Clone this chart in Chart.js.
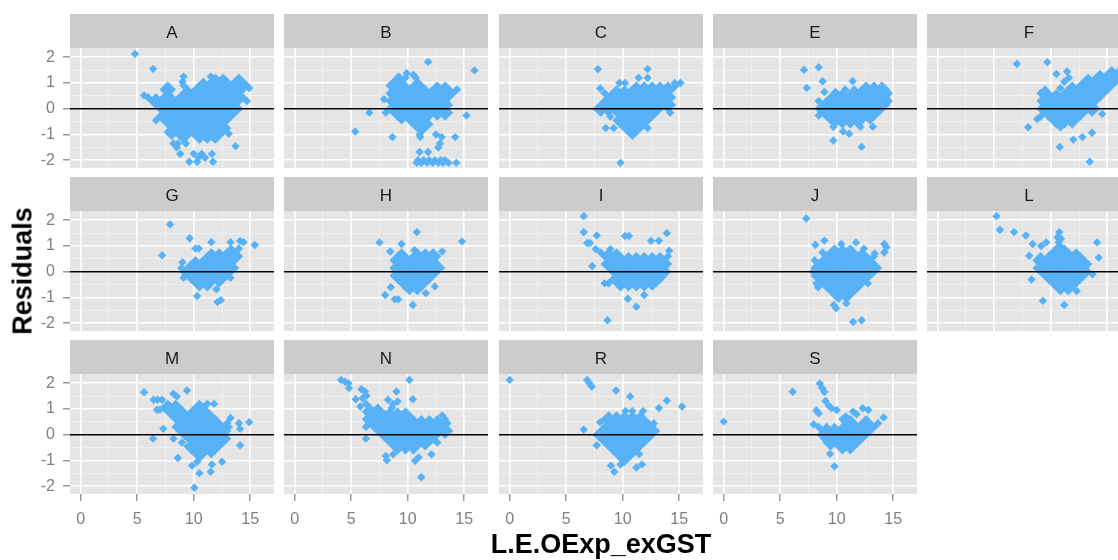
<!DOCTYPE html>
<html>
<head>
<meta charset="utf-8">
<script src="https://cdn.jsdelivr.net/npm/chart.js@4.4.1/dist/chart.umd.min.js"></script>
<style>
  html, body { margin: 0; padding: 0; background: #fff; overflow: hidden; }
  body { width: 1118px; height: 560px; position: relative; }
  canvas { position: absolute; }
  .axis-title { position: absolute; font: bold 27px "Liberation Sans", Arial, sans-serif; line-height: 27px; color: #000; white-space: nowrap; }
  #x-title { left: 601px; top: 531px; transform: translateX(-50%); }
  #y-title { left: 23px; top: 271px; transform: translate(-50%, -50%) rotate(-90deg); }
</style>
</head>
<body>
<div id="panels"></div>
<div class="axis-title" id="x-title">L.E.OExp_exGST</div>
<div class="axis-title" id="y-title">Residuals</div>
<script>
const facets = ['A', 'B', 'C', 'E', 'F', 'G', 'H', 'I', 'J', 'L', 'M', 'N', 'R', 'S'];
const xTicks = [0, 2.5, 5, 7.5, 10, 12.5, 15];
const yTicks = [-2, -1.5, -1, -0.5, 0, 0.5, 1, 1.5, 2];
const xMajor = [0, 5, 10, 15];
const yMajor = [-2, -1, 0, 1, 2];
const xRange = [-0.95, 17.1];
const yRange = [-2.3, 2.36];

// every row: [residual, then the L.E.OExp_exGST values seen at that residual]
const residA = [
    [2.13, 4.8], [1.55, 6.4], [1.25, 9.1, 11.5],
    [1.2, 11.9, 12.6, 14.0],
    [1.05, 9.0, 10.85, 11.55, 12.25, 12.95, 13.65, 14.35],
    [0.9, 7.7, 9.1, 10.5, 11.2, 11.9, 12.6, 13.3, 14.0, 14.7],
    [0.8, 14.9],
    [0.75, 7.35, 8.05, 9.45, 10.15, 10.85, 11.55, 12.25, 12.95, 13.65, 14.35],
    [0.6, 7.7, 9.1, 9.8, 10.5, 11.2, 11.9, 12.6, 13.3, 14.0],
    [0.52, 5.6],
    [0.45, 5.95, 6.65, 7.35, 8.05, 8.75, 9.45, 10.15, 10.85, 11.55, 12.25, 12.95, 13.65, 14.35],
    [0.3, 6.3, 7.0, 7.7, 8.4, 9.1, 9.8, 10.5, 11.2, 11.9, 12.6, 13.3, 14.0, 14.7],
    [0.15, 6.65, 7.35, 8.05, 8.75, 9.45, 10.15, 10.85, 11.55, 12.25, 12.95, 13.65],
    [0.0, 7.0, 7.7, 8.4, 9.1, 9.8, 10.5, 11.2, 11.9, 12.6, 13.3, 14.0],
    [-0.15, 7.35, 8.05, 8.75, 9.45, 10.15, 10.85, 11.55, 12.25, 12.95, 13.65],
    [-0.3, 7.0, 7.7, 8.4, 9.1, 9.8, 10.5, 11.2, 11.9, 12.6, 13.3],
    [-0.45, 6.65, 7.35, 8.05, 8.75, 9.45, 10.15, 10.85, 11.55, 12.25, 12.95],
    [-0.6, 7.7, 8.4, 9.1, 9.8, 10.5, 11.2, 11.9, 12.6],
    [-0.75, 8.05, 8.75, 9.45, 10.15, 10.85, 11.55, 12.25, 12.95],
    [-0.9, 7.7, 8.4, 9.1, 9.8, 10.5, 11.2, 11.9, 12.6],
    [-0.97, 13.1],
    [-1.05, 8.05, 8.75, 9.45, 10.15, 10.85, 11.55, 12.25],
    [-1.2, 9.1, 10.5, 11.2, 11.9],
    [-1.35, 8.2, 8.6, 9.3], [-1.45, 13.7], [-1.5, 8.5],
    [-1.75, 8.8, 10.0, 10.7, 11.6], [-1.9, 10.4, 11.0],
    [-2.06, 9.6, 10.3, 11.7]
];
const residB = [
    [1.82, 11.8], [1.49, 15.9], [1.38, 9.9], [1.32, 10.5], [1.25, 9.2],
    [1.2, 9.1, 9.8, 10.7],
    [1.05, 8.75, 9.45, 10.85],
    [0.9, 8.4, 9.1, 9.8, 10.5, 11.2, 12.6, 13.3],
    [0.75, 8.75, 9.45, 10.15, 10.85, 11.55, 12.25, 12.95, 13.65, 14.35],
    [0.6, 8.4, 9.1, 9.8, 10.5, 11.2, 11.9, 12.6, 13.3, 14.0],
    [0.45, 8.75, 9.45, 10.15, 10.85, 11.55, 12.25, 12.95, 13.65],
    [0.37, 7.9],
    [0.3, 8.4, 9.1, 9.8, 10.5, 11.2, 11.9, 12.6, 13.3],
    [0.15, 8.75, 9.45, 10.15, 10.85, 11.55, 12.25, 12.95, 13.65],
    [0.0, 8.4, 9.1, 9.8, 10.5, 11.2, 11.9, 12.6, 13.3],
    [-0.15, 6.6, 8.05, 8.75, 9.45, 10.15, 10.85, 11.55, 12.25, 12.95, 13.65],
    [-0.26, 15.2],
    [-0.3, 9.1, 9.8, 10.5, 11.2, 11.9, 12.6, 13.3],
    [-0.45, 9.45, 10.15, 10.85, 11.55],
    [-0.6, 10.5, 11.2, 11.9],
    [-0.75, 10.85, 11.55],
    [-0.88, 5.35, 11.2],
    [-1.0, 11.05, 12.5],
    [-1.1, 8.65, 11.1, 13.0, 14.2],
    [-1.35, 12.85], [-1.5, 12.7], [-1.68, 11.05, 11.8],
    [-2.0, 10.9, 11.4, 11.9, 12.4, 12.9, 13.3],
    [-2.1, 10.8, 11.2, 11.7, 12.2, 12.7, 13.1, 13.6, 14.3]
];
const residC = [
    [1.54, 7.8, 12.2], [1.2, 11.4, 12.2], [1.0, 9.7, 10.2, 14.6, 15.1],
    [0.9, 11.2, 11.9, 12.6, 13.3, 14.0, 14.7],
    [0.79, 8.0],
    [0.75, 9.45, 10.15, 10.85, 11.55, 12.25, 12.95, 13.65, 14.35],
    [0.6, 8.4, 9.1, 9.8, 10.5, 11.2, 11.9, 12.6, 13.3, 14.0],
    [0.45, 8.75, 9.45, 10.15, 10.85, 11.55, 12.25, 12.95, 13.65, 14.35],
    [0.3, 8.4, 9.1, 9.8, 10.5, 11.2, 11.9, 12.6, 13.3, 14.0],
    [0.15, 8.05, 8.75, 9.45, 10.15, 10.85, 11.55, 12.25, 12.95, 13.65, 14.35],
    [0.0, 7.7, 8.4, 9.1, 9.8, 10.5, 11.2, 11.9, 12.6, 13.3, 14.0],
    [-0.15, 8.05, 8.75, 9.45, 10.15, 10.85, 11.55, 12.25, 12.95, 14.2],
    [-0.3, 8.9, 9.8, 10.5, 11.2, 11.9, 12.6],
    [-0.45, 9.45, 10.15, 10.85, 11.55, 12.25],
    [-0.6, 9.8, 10.5, 11.2, 11.9],
    [-0.75, 8.5, 9.2, 10.15, 10.85, 11.55, 12.2],
    [-0.9, 10.5, 11.2],
    [-1.05, 10.85],
    [-2.1, 9.8]
];
const residE = [
    [1.61, 8.4], [1.51, 7.1], [1.07, 8.75, 11.4],
    [0.9, 12.6, 13.3, 14.0],
    [0.81, 7.35],
    [0.75, 10.75, 11.55, 12.25, 12.95, 13.65, 14.35],
    [0.65, 8.9, 9.9],
    [0.6, 9.8, 10.5, 11.2, 11.9, 12.6, 13.3, 14.0, 14.6],
    [0.45, 9.45, 10.15, 10.85, 11.55, 12.25, 12.95, 13.65, 14.35],
    [0.3, 8.4, 9.1, 9.8, 10.5, 11.2, 11.9, 12.6, 13.3, 14.0, 14.6],
    [0.15, 8.75, 9.45, 10.15, 10.85, 11.55, 12.25, 12.95, 13.65, 14.35],
    [0.0, 8.4, 9.1, 9.8, 10.5, 11.2, 11.9, 12.6, 13.3, 14.0],
    [-0.15, 8.75, 9.45, 10.15, 10.85, 11.55, 12.25, 12.95, 13.65],
    [-0.26, 8.4],
    [-0.3, 9.1, 9.8, 10.5, 11.2, 11.9, 12.6, 13.3],
    [-0.45, 9.45, 10.15, 10.85, 11.55, 12.25, 12.95],
    [-0.6, 9.8, 10.5, 11.2, 11.9],
    [-0.7, 9.7, 12.1, 13.2],
    [-0.88, 10.55], [-0.97, 11.1], [-1.23, 9.7], [-1.48, 12.2]
];
const residF = [
    [1.81, 9.7], [1.74, 7.0], [1.65, 16.6],
    [1.5, 15.4, 16.1, 16.8],
    [1.45, 11.45],
    [1.35, 10.5, 14.35, 15.05, 15.75, 16.45],
    [1.2, 11.6, 13.3, 14.0, 14.7, 15.4, 16.1],
    [1.05, 11.2, 12.95, 13.65, 14.35, 15.05, 15.75],
    [0.9, 11.9, 12.6, 13.3, 14.0, 14.7, 15.4],
    [0.8, 10.85],
    [0.75, 9.5, 11.55, 12.25, 12.95, 13.65, 14.35, 15.05],
    [0.6, 9.1, 9.8, 10.5, 11.2, 11.9, 12.6, 13.3, 14.0, 14.7],
    [0.45, 9.45, 10.15, 10.85, 11.55, 12.25, 12.95, 13.65, 14.35],
    [0.3, 9.1, 9.8, 10.5, 11.2, 11.9, 12.6, 13.3, 14.0],
    [0.15, 9.45, 10.15, 10.85, 11.55, 12.25, 12.95, 13.65],
    [0.0, 9.1, 9.8, 10.5, 11.2, 11.9, 12.6, 13.3, 14.0],
    [-0.15, 9.45, 10.15, 10.85, 11.55, 12.25, 12.95, 13.65],
    [-0.2, 14.55],
    [-0.3, 9.1, 9.8, 10.5, 11.2, 11.9, 12.6],
    [-0.4, 8.8],
    [-0.45, 10.15, 10.85, 11.55, 12.25],
    [-0.6, 10.5, 11.2, 11.9],
    [-0.72, 8.0, 10.85],
    [-0.93, 13.65], [-1.1, 12.8], [-1.2, 12.0], [-1.48, 10.8], [-2.06, 13.45]
];
const residG = [
    [1.84, 7.9], [1.3, 9.65], [1.2, 14.1], [1.15, 11.55, 13.25, 14.4], [1.04, 15.4],
    [0.9, 10.15, 10.45, 13.3, 14.0],
    [0.75, 11.55, 12.25, 12.95, 13.65],
    [0.64, 7.2],
    [0.6, 11.2, 11.9, 12.6, 13.3, 14.0],
    [0.45, 10.15, 10.85, 11.55, 12.25, 12.95, 13.65],
    [0.37, 9.0],
    [0.3, 9.8, 10.5, 11.2, 11.9, 12.6, 13.3],
    [0.15, 8.9, 9.45, 10.15, 10.85, 11.55, 12.25, 12.95, 13.65],
    [0.0, 9.1, 9.8, 10.5, 11.2, 11.9, 12.6, 13.3],
    [-0.15, 9.45, 10.15, 10.85, 11.55, 12.25, 12.95],
    [-0.23, 9.1, 13.25],
    [-0.3, 9.8, 10.5, 11.2, 11.9, 12.6],
    [-0.45, 10.15, 10.85, 11.55, 12.25],
    [-0.6, 10.5, 11.2],
    [-0.68, 12.0], [-0.94, 10.3], [-1.1, 12.4], [-1.17, 12.1]
];
const residH = [
    [1.54, 10.8], [1.18, 14.8], [1.14, 7.5], [1.08, 9.45],
    [0.84, 10.6], [0.79, 8.45, 13.05],
    [0.75, 9.45, 10.85, 11.55, 12.25],
    [0.6, 9.1, 9.8, 10.5, 11.2, 11.9, 12.6],
    [0.45, 8.75, 9.45, 10.15, 10.85, 11.55, 12.25],
    [0.3, 9.1, 9.8, 10.5, 11.2, 11.9, 12.6],
    [0.15, 8.75, 9.45, 10.15, 10.85, 11.55, 12.25, 12.95],
    [0.0, 9.1, 9.8, 10.5, 11.2, 11.9, 12.6],
    [-0.15, 8.75, 9.45, 10.15, 10.85, 11.55, 12.25],
    [-0.3, 9.1, 9.8, 10.5, 11.2, 11.9],
    [-0.45, 9.45, 10.15, 10.85, 11.55],
    [-0.57, 12.4],
    [-0.6, 8.5, 9.8, 10.5, 11.2],
    [-0.75, 10.15, 10.85],
    [-0.83, 11.6], [-0.9, 8.0], [-1.07, 8.85, 9.15], [-1.29, 10.45]
];
const residI = [
    [2.16, 6.55], [1.54, 6.55], [1.5, 13.9], [1.41, 7.7], [1.39, 10.2, 10.55],
    [1.2, 12.5, 13.2], [1.12, 6.85, 7.1],
    [0.88, 7.6, 8.9], [0.82, 14.1],
    [0.75, 8.05, 8.75, 9.45],
    [0.6, 8.4, 9.1, 9.8, 10.5, 11.2, 11.9, 12.6, 13.3, 14.0],
    [0.45, 8.75, 9.45, 10.15, 10.85, 11.55, 12.25, 12.95, 13.65],
    [0.3, 8.4, 9.1, 9.8, 10.5, 11.2, 11.9, 12.6, 13.3, 14.0],
    [0.22, 7.3],
    [0.15, 8.75, 9.45, 10.15, 10.85, 11.55, 12.25, 12.95, 13.65],
    [0.0, 9.1, 9.8, 10.5, 11.2, 11.9, 12.6, 13.3, 13.9],
    [-0.15, 9.45, 10.15, 10.85, 11.55, 12.25, 12.95, 13.6],
    [-0.3, 9.1, 9.8, 10.5, 11.2, 11.9, 12.6, 13.3],
    [-0.45, 8.4, 8.75, 9.45, 10.15, 10.85, 11.55, 12.25, 12.95],
    [-0.57, 12.6],
    [-0.6, 9.8, 10.5, 11.2, 11.9],
    [-0.9, 11.9], [-1.05, 10.45], [-1.36, 11.2], [-1.88, 8.65]
];
const residJ = [
    [2.07, 7.3], [1.21, 8.9], [1.14, 11.7], [1.08, 10.4, 14.2], [1.05, 8.1],
    [0.95, 14.4],
    [0.9, 9.8, 10.5, 11.2, 12.4],
    [0.75, 8.75, 9.45, 10.15, 10.85, 11.55, 12.25, 14.2],
    [0.71, 13.35],
    [0.6, 9.1, 9.8, 10.5, 11.2, 11.9, 12.6, 13.3],
    [0.45, 8.05, 8.75, 9.45, 10.15, 10.85, 11.55, 12.25, 12.95],
    [0.3, 8.4, 9.1, 9.8, 10.5, 11.2, 11.9, 12.6, 13.3],
    [0.15, 8.05, 8.75, 9.45, 10.15, 10.85, 11.55, 12.25, 12.95, 13.65],
    [0.0, 7.9, 8.4, 9.1, 9.8, 10.5, 11.2, 11.9, 12.6, 13.3],
    [-0.15, 8.05, 8.75, 9.45, 10.15, 10.85, 11.55, 12.25, 12.95],
    [-0.3, 8.4, 9.1, 9.8, 10.5, 11.2, 11.9, 12.6],
    [-0.45, 8.2, 8.75, 9.45, 10.15, 10.85, 11.55, 12.25, 12.75],
    [-0.6, 8.35, 9.1, 9.8, 10.5, 11.2, 11.9],
    [-0.75, 9.45, 10.15, 10.85, 11.55],
    [-0.9, 9.8, 10.5, 11.2],
    [-1.05, 10.15, 10.85],
    [-1.22, 10.85], [-1.29, 9.75], [-1.42, 9.95], [-1.88, 12.2], [-1.95, 11.45]
];
const residL = [
    [2.16, 5.2], [1.63, 5.5], [1.54, 6.75, 10.75], [1.41, 7.8], [1.34, 10.6], [1.28, 10.9],
    [1.14, 9.6, 10.7, 14.1], [1.08, 8.4], [1.0, 9.15, 10.8],
    [0.9, 10.5, 11.2],
    [0.75, 10.15, 10.85, 11.55, 12.25],
    [0.62, 8.1],
    [0.6, 9.1, 9.8, 10.5, 11.2, 11.9, 12.6],
    [0.55, 14.25],
    [0.45, 8.75, 9.45, 10.15, 10.85, 11.55, 12.25, 12.95],
    [0.3, 9.1, 9.8, 10.5, 11.2, 11.9, 12.6, 13.3],
    [0.15, 8.75, 9.45, 10.15, 10.85, 11.55, 12.25, 12.95],
    [0.0, 9.1, 9.8, 10.5, 11.2, 11.9, 12.6, 13.3],
    [-0.1, 13.7],
    [-0.15, 9.45, 10.15, 10.85, 11.55, 12.25, 12.95],
    [-0.3, 8.3, 9.8, 10.5, 11.2, 11.9, 12.6],
    [-0.45, 10.15, 10.85, 11.55, 12.25],
    [-0.6, 10.5, 11.2, 11.9],
    [-0.75, 10.85, 11.55, 12.3],
    [-1.13, 9.3], [-1.29, 11.2]
];
const residM = [
    [1.72, 9.4], [1.65, 5.6], [1.59, 8.2], [1.49, 8.5], [1.36, 6.45, 6.8, 7.2],
    [1.2, 7.7, 8.4, 10.5, 11.2, 11.8],
    [1.05, 7.35, 8.05, 8.75, 10.15, 10.85],
    [0.97, 6.75, 7.0],
    [0.9, 7.7, 8.4, 9.1, 9.8, 10.5, 11.2],
    [0.75, 8.05, 8.75, 9.45, 10.15, 10.85, 11.55],
    [0.65, 13.25],
    [0.6, 8.4, 9.1, 9.8, 10.5, 11.2, 11.9],
    [0.49, 14.9],
    [0.45, 8.75, 9.45, 10.15, 10.85, 11.55, 12.25, 12.95, 14.0],
    [0.3, 8.4, 9.1, 9.8, 10.5, 11.2, 11.9, 12.6, 13.1],
    [0.23, 7.3, 14.1],
    [0.15, 8.75, 9.45, 10.15, 10.85, 11.55, 12.25, 12.95],
    [0.0, 9.1, 9.8, 10.5, 11.2, 11.9, 12.6],
    [-0.15, 6.4, 8.2, 9.45, 10.15, 10.85, 11.55, 12.25, 12.95],
    [-0.3, 8.95, 9.8, 10.5, 11.2, 11.9, 12.6],
    [-0.41, 14.1],
    [-0.45, 9.45, 10.15, 10.85, 11.55, 12.25],
    [-0.6, 9.8, 10.5, 11.2, 11.9],
    [-0.75, 10.15, 10.85, 11.55],
    [-0.9, 8.6, 10.5],
    [-1.05, 10.3, 12.5], [-1.15, 11.6], [-1.2, 9.85],
    [-1.44, 11.5], [-1.49, 10.5], [-2.06, 10.05]
];
const residN = [
    [2.13, 4.1, 10.15], [2.06, 4.45], [2.0, 4.75], [1.81, 4.8], [1.77, 5.9],
    [1.68, 6.2, 9.0], [1.52, 6.35], [1.42, 6.0], [1.38, 5.4, 10.45], [1.36, 8.25],
    [1.29, 9.1], [1.2, 6.3, 8.7], [1.1, 5.8],
    [1.05, 6.65, 7.35, 8.6],
    [0.9, 6.3, 7.0, 7.7, 8.4, 9.1, 9.8],
    [0.75, 6.65, 7.35, 8.05, 8.75, 9.45, 10.15, 13.05],
    [0.6, 6.3, 7.0, 7.7, 8.4, 9.1, 9.8, 10.5, 11.2, 11.9, 12.6, 13.3],
    [0.45, 6.65, 7.35, 8.05, 8.75, 9.45, 10.15, 10.85, 11.55, 12.25, 12.95, 13.5],
    [0.3, 6.3, 7.0, 7.7, 8.4, 9.1, 9.8, 10.5, 11.2, 11.9, 12.6, 13.3],
    [0.15, 7.35, 8.05, 8.75, 9.45, 10.15, 10.85, 11.55, 12.25, 12.95, 13.65],
    [0.0, 7.7, 8.4, 9.1, 9.8, 10.5, 11.2, 11.9, 12.6, 13.3],
    [-0.15, 6.3, 8.05, 8.75, 9.45, 10.15, 10.85, 11.55, 12.25],
    [-0.3, 8.4, 9.1, 9.8, 10.5, 11.2, 11.9, 12.6],
    [-0.45, 8.75, 9.45, 10.15, 10.85, 11.55],
    [-0.6, 9.1, 9.8, 10.5],
    [-0.76, 8.7, 12.1], [-0.82, 8.05], [-0.88, 10.95], [-0.99, 8.15], [-1.01, 10.65],
    [-1.65, 11.2]
];
const residR = [
    [2.13, 0.0, 6.85], [2.0, 7.05], [1.87, 7.25], [1.72, 9.4], [1.49, 10.65],
    [1.33, 13.9], [1.1, 15.25], [1.04, 13.2],
    [0.92, 10.25, 10.85, 11.8],
    [0.75, 8.75, 9.45, 10.15, 10.85, 11.55],
    [0.6, 8.4, 9.1, 9.8, 10.5, 11.2, 11.9],
    [0.49, 8.0],
    [0.45, 8.75, 9.45, 10.15, 10.85, 11.55, 12.25, 12.75],
    [0.3, 8.4, 9.1, 9.8, 10.5, 11.2, 11.9, 12.6],
    [0.2, 6.55],
    [0.15, 8.05, 8.75, 9.45, 10.15, 10.85, 11.55, 12.25, 12.95],
    [0.0, 7.7, 8.4, 9.1, 9.8, 10.5, 11.2, 11.9, 12.6],
    [-0.15, 8.05, 8.75, 9.45, 10.15, 10.85, 11.55, 12.25],
    [-0.3, 8.4, 9.1, 9.8, 10.5, 11.2, 11.9],
    [-0.41, 7.7],
    [-0.45, 8.75, 9.45, 10.15, 10.85, 11.55],
    [-0.6, 9.1, 9.8, 10.5, 11.2],
    [-0.75, 9.45, 10.15, 10.85, 11.45],
    [-0.9, 9.8, 10.5],
    [-1.05, 10.15],
    [-1.15, 9.8, 11.7], [-1.2, 8.95], [-1.27, 11.2], [-1.44, 9.25]
];
const residS = [
    [1.99, 8.5], [1.82, 8.7], [1.67, 6.1, 8.9], [1.31, 9.0], [1.13, 9.3],
    [1.03, 9.55, 12.3], [0.96, 10.0, 12.8], [0.94, 8.2], [0.9, 11.45],
    [0.83, 8.4], [0.8, 11.75], [0.71, 10.8], [0.67, 14.15],
    [0.6, 10.5, 11.2, 12.6],
    [0.51, 0.0],
    [0.45, 10.85, 11.55, 12.25, 12.95, 13.65],
    [0.41, 7.95],
    [0.3, 8.4, 9.1, 9.8, 10.5, 11.2, 11.9, 12.6, 13.3],
    [0.15, 8.75, 9.45, 10.15, 10.85, 11.55, 12.25, 12.95],
    [0.0, 8.6, 9.1, 9.8, 10.5, 11.2, 11.9, 12.6],
    [-0.15, 8.9, 9.45, 10.15, 10.85, 11.55, 12.25],
    [-0.3, 9.1, 9.8, 10.5, 11.2, 11.9],
    [-0.45, 9.45, 10.15, 10.85, 11.55],
    [-0.6, 10.5, 11.2],
    [-0.74, 9.4], [-1.22, 9.8]
];

const residRows = [residA, residB, residC, residE, residF, residG, residH,
    residI, residJ, residL, residM, residN, residR, residS];

// panel layout (px)
const colLeft = [70, 284, 499, 713, 927];
const rowTop = [14, 177, 340];
const panelW = 204, panelH = 120, stripH = 34;
const yAxisW = 60, xAxisH = 36;
const NCOL = 5;

const pointColor = '#56B1F7';
const tickGrey = '#7F7F7F';
const fontFamily = '"Liberation Sans", Arial, sans-serif';

const facetPlugin = {
    id: 'facet',
    beforeDraw(chart, args, opts) {
        const { ctx, chartArea: a } = chart;
        ctx.save();
        ctx.fillStyle = '#E5E5E5';
        ctx.fillRect(a.left, a.top, a.right - a.left, a.bottom - a.top);
        ctx.fillStyle = '#CCCCCC';
        ctx.fillRect(a.left, a.top - stripH, a.right - a.left, stripH);
        ctx.fillStyle = '#1A1A1A';
        ctx.font = '17px ' + fontFamily;
        ctx.textAlign = 'center';
        ctx.textBaseline = 'middle';
        ctx.fillText(opts.label, (a.left + a.right) / 2, a.top - stripH / 2 + 2);
        ctx.restore();
    },
    afterDatasetsDraw(chart) {
        // hline at residual 0
        const { ctx, chartArea: a, scales } = chart;
        const py = scales.y.getPixelForValue(0);
        ctx.save();
        ctx.strokeStyle = '#000';
        ctx.lineWidth = 1.5;
        ctx.beginPath();
        ctx.moveTo(a.left, py);
        ctx.lineTo(a.right, py);
        ctx.stroke();
        ctx.restore();
    }
};

function gridStyle(majors, showTicks) {
    return {
        color: c => majors.includes(c.tick && c.tick.value) ? '#FFFFFF' : '#F2F2F2',
        lineWidth: c => majors.includes(c.tick && c.tick.value) ? 1.6 : 0.8,
        tickColor: c => (showTicks && majors.includes(c.tick && c.tick.value)) ? tickGrey : 'rgba(0,0,0,0)',
        tickWidth: 1.2,
        tickLength: 7,
        drawTicks: showTicks
    };
}

const holder = document.getElementById('panels');

facets.forEach((name, i) => {
    const col = i % NCOL;
    const row = Math.floor(i / NCOL);
    const showY = col === 0;
    // facet_wrap draws the x axis under the last row only
    const showX = row === 2;

    const canvas = document.createElement('canvas');
    const w = panelW + (showY ? yAxisW : 0);
    const h = stripH + panelH + (showX ? xAxisH : 0);
    canvas.width = w;
    canvas.height = h;
    canvas.style.left = (colLeft[col] - (showY ? yAxisW : 0)) + 'px';
    canvas.style.top = rowTop[row] + 'px';
    canvas.style.width = w + 'px';
    canvas.style.height = h + 'px';
    holder.appendChild(canvas);

    const points = residRows[i].flatMap(([y, ...xs]) => xs.map(x => ({ x, y })));

    new Chart(canvas.getContext('2d'), {
        type: 'scatter',
        data: {
            datasets: [{
                label: name,
                data: points,
                pointStyle: 'rectRot',
                pointRadius: 4.2,
                pointHoverRadius: 4.2,
                backgroundColor: pointColor,
                borderWidth: 0
            }]
        },
        plugins: [facetPlugin],
        options: {
            responsive: false,
            animation: false,
            devicePixelRatio: 1,
            events: [],
            layout: { autoPadding: false, padding: { top: stripH, left: 0, right: 0, bottom: 0 } },
            plugins: {
                legend: { display: false },
                tooltip: { enabled: false },
                facet: { label: name }
            },
            scales: {
                x: {
                    type: 'linear',
                    min: xRange[0],
                    max: xRange[1],
                    afterBuildTicks: s => { s.ticks = xTicks.map(v => ({ value: v })); },
                    afterFit: s => { s.height = showX ? xAxisH : 0; s.paddingLeft = 0; s.paddingRight = 0; },
                    ticks: {
                        display: showX,
                        color: tickGrey,
                        font: { family: fontFamily, size: 16 },
                        padding: 9,
                        autoSkip: false,
                        maxRotation: 0,
                        callback: v => xMajor.includes(v) ? String(v) : ''
                    },
                    grid: gridStyle(xMajor, showX),
                    border: { display: false }
                },
                y: {
                    type: 'linear',
                    min: yRange[0],
                    max: yRange[1],
                    afterBuildTicks: s => { s.ticks = yTicks.map(v => ({ value: v })); },
                    afterFit: s => { s.width = showY ? yAxisW : 0; s.paddingTop = 0; s.paddingBottom = 0; },
                    ticks: {
                        display: showY,
                        color: tickGrey,
                        font: { family: fontFamily, size: 16 },
                        padding: 8,
                        autoSkip: false,
                        callback: v => yMajor.includes(v) ? String(v) : ''
                    },
                    grid: gridStyle(yMajor, showY),
                    border: { display: false }
                }
            }
        }
    });
});
</script>
</body>
</html>
